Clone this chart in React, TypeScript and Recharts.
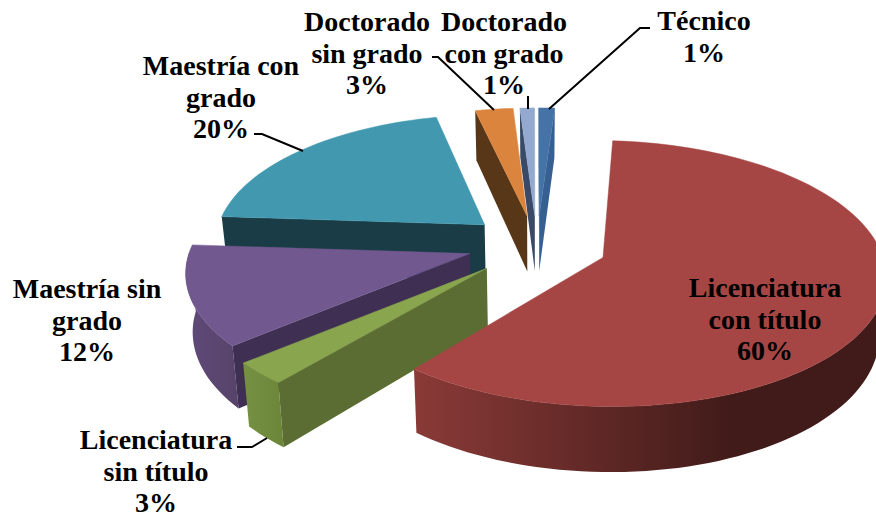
import React from "react";
import { Pie, PieChart } from "recharts";

// draw order runs counter-clockwise so nearer slices paint over farther ones
const categories = [
  "Maestría con grado",
  "Maestría sin grado",
  "Licenciatura sin título",
  "Licenciatura con título",
  "Técnico",
  "Doctorado con grado",
  "Doctorado sin grado",
];
const values = [20.4, 12.4, 2.8, 60.1, 1.1, 1.0, 2.6];
const labelRows = [
  ["Maestría con", "grado"],
  ["Maestría sin", "grado"],
  ["Licenciatura", "sin título"],
  ["Licenciatura", "con título"],
  ["Técnico"],
  ["Doctorado", "con grado"],
  ["Doctorado", "sin grado"],
];

const chartData = categories.map((name, i) => ({ name, value: values[i] }));

const topColors = ["#4198af", "#71588f", "#89a54e", "#a54644", "#4572a7", "#93a9cf", "#db843d"];
const edgeColors = ["#1a3c47", "#3f3053", "#5b6d32", "#6e2e2c", "#366092", "#3a4a66", "#583618"];
const rimColors = [
  ["#1a3c47", "#1a3c47"],
  ["#5f4a7a", "#574369"],
  ["#769142", "#6c8639"],
  ["#8a3a37", "#401b19"],
  ["#366092", "#366092"],
  ["#3a4a66", "#3a4a66"],
  ["#583618", "#583618"],
];

const TILT = 128 / 270;
const PERSPECTIVE = 0.12;
const DEPTH = 57;
const EXPLODE = 0.26;
const RAD = Math.PI / 180;
// small per-slice corrections to the projection
const sliceStretch = [1.005, 1.03, 1.05, 1.025, 1, 1, 1];
const sliceLift = [0, -3, -2, -1, 2, 2, 2];

const labelPos = [
  { x: 221, y: 75, line: "303,151 262,134 254,134" },
  { x: 87, y: 298, line: "" },
  { x: 156, y: 449, line: "267,438 252,447 237,447" },
  { x: 765, y: 297, line: "" },
  { x: 704, y: 30, line: "549,109 640,28 650,28" },
  { x: 504, y: 31, line: "528,109 528,96" },
  { x: 367, y: 31, line: "494,110 438,57 432,57" },
];

function SliceShape(props: any) {
  const { cx, cy, outerRadius: R, startAngle, endAngle, index } = props;
  // clockwise from the top of the pie
  const t1 = 90 - endAngle;
  const t2 = 90 - startAngle;
  const mid = ((t1 + t2) / 2) * RAD;
  const a0 = EXPLODE * Math.sin(mid);
  const b0 = -EXPLODE * Math.cos(mid);
  const stretch = sliceStretch[index];
  const lift = sliceLift[index];

  const project = (a: number, b: number, lower = false) => {
    const s = 1 / (1 - PERSPECTIVE * b);
    const x = cx + R * a * s;
    const y = cy + lift + R * TILT * b * s;
    return lower ? [cx + (x - cx) * 0.98, y + DEPTH * s] : [x, y];
  };
  const onRim = (deg: number, lower = false) =>
    project(a0 + stretch * Math.sin(deg * RAD), b0 - Math.cos(deg * RAD), lower);

  const steps = Math.max(2, Math.ceil((t2 - t1) / 2));
  const angles = Array.from({ length: steps + 1 }, (_, i) => t1 + ((t2 - t1) * i) / steps);
  const apex = project(a0, b0);
  const apexLow = project(a0, b0, true);

  const poly = (pts: number[][]) => pts.map((p) => `${p[0].toFixed(1)},${p[1].toFixed(1)}`).join(" ");
  const front = angles.filter((d) => Math.cos(d * RAD) < 0.02);
  const gradId = `rim-${index}`;

  return (
    <g>
      <defs>
        <linearGradient id={gradId} gradientUnits="objectBoundingBox" x1="0" y1="0" x2="1" y2="0">
          <stop offset="0" stopColor={rimColors[index][0]} />
          <stop offset={index === 3 ? 0.68 : 1} stopColor={rimColors[index][1]} />
          <stop offset="1" stopColor={rimColors[index][1]} />
        </linearGradient>
      </defs>
      {front.length > 1 && (
        <polygon
          points={poly([...front.map((d) => onRim(d)), ...[...front].reverse().map((d) => onRim(d, true))])}
          fill={`url(#${gradId})`}
        />
      )}
      {Math.sin(t1 * RAD) < 0 && (
        <polygon points={poly([apex, onRim(t1), onRim(t1, true), apexLow])} fill={edgeColors[index]} />
      )}
      {Math.sin(t2 * RAD) > 0 && (
        <polygon points={poly([apex, onRim(t2), onRim(t2, true), apexLow])} fill={edgeColors[index]} />
      )}
      <polygon
        points={poly([apex, ...angles.map((d) => onRim(d))])}
        fill={topColors[index]}
        stroke={topColors[index]}
        strokeWidth={0.5}
      />
    </g>
  );
}

function SliceLabel(props: any) {
  const { index, percent } = props;
  const pos = labelPos[index];
  const rows = [...labelRows[index], `${Math.round(percent * 100)}%`];
  return (
    <g>
      {pos.line && <polyline points={pos.line} fill="none" stroke="#000" strokeWidth={2} />}
      <text
        x={pos.x}
        y={pos.y}
        textAnchor="middle"
        fontFamily="'Liberation Serif', serif"
        fontWeight="bold"
        fontSize={28}
        fill="#000"
      >
        {rows.map((row, i) => (
          <tspan key={i} x={pos.x} dy={i === 0 ? 0 : 31.5}>
            {row}
          </tspan>
        ))}
      </text>
    </g>
  );
}

export default function App() {
  return (
    <div style={{ position: "absolute", left: 0, top: 0, width: 876, height: 513, background: "#fff" }}>
      <PieChart width={876} height={513} margin={{ top: 0, right: 0, bottom: 0, left: 0 }}>
        <Pie
          data={chartData}
          dataKey="value"
          nameKey="name"
          cx={537}
          cy={246}
          outerRadius={270}
          startAngle={-257}
          endAngle={103}
          stroke="none"
          shape={SliceShape}
          label={SliceLabel}
          labelLine={false}
          isAnimationActive={false}
        />
      </PieChart>
    </div>
  );
}
